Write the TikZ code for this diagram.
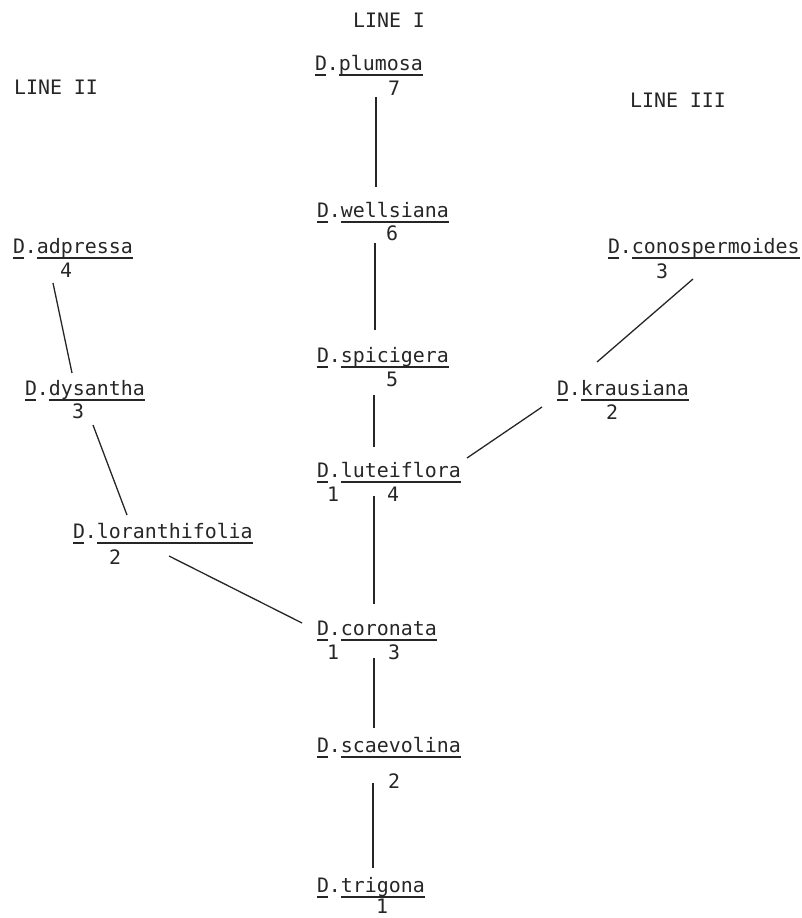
\documentclass[tikz,border=0pt]{standalone}
\usepackage{fontspec}
\newfontfamily\plotfont{DejaVu Sans Mono}
\tikzset{
  sptext/.style={anchor=base west, inner sep=0pt, outer sep=0pt, font=\plotfont\fontsize{19.9}{20}\selectfont, text=black!85},
  num/.style={inner sep=0pt, font=\plotfont\fontsize{19.9}{20}\selectfont, text=black!85},
  linelab/.style={inner sep=0pt, font=\plotfont\fontsize{19.9}{20}\selectfont, text=black!85},
  ul/.style={line width=1.1pt, black!85},
  conn/.style={line width=1.3pt, black!85},
}
\newcommand\species[4]{%
  \node[sptext] (#1) at (#2,#3) {D.#4};
  \draw[ul] ([yshift=-5pt]#1.base west) -- ++(11pt,0);
  \draw[ul] ([xshift=24pt,yshift=-5pt]#1.base west) -- ([yshift=-5pt]#1.base east);
}
\begin{document}
\begin{tikzpicture}[x=1pt,y=-1pt]
\useasboundingbox (0,0) rectangle (801,918);
% line labels
\node[linelab] (l1) at (389,20) {LINE I};
\node[linelab] (l2) at (56,87) {LINE II};
\node[linelab] (l3) at (678,100) {LINE III};
% species
\species{plumosa}{315}{70}{plumosa}
\node[num] (plumosaN) at (394,88) {7};
\species{wellsiana}{317}{217}{wellsiana}
\node[num] (wellsianaN) at (392,233) {6};
\species{spicigera}{317}{362}{spicigera}
\node[num] (spicigeraN) at (392,379) {5};
\species{adpressa}{13}{253}{adpressa}
\node[num] (adpressaN) at (66,270) {4};
\species{conosperm}{608}{253}{conospermoides}
\node[num] (conospermN) at (662,271) {3};
\species{dysantha}{25}{395}{dysantha}
\node[num] (dysanthaN) at (78,411) {3};
\species{krausiana}{557}{395}{krausiana}
\node[num] (krausianaN) at (612,412) {2};
\species{luteiflora}{317}{477}{luteiflora}
\node[num] (luteifloraA) at (333,494) {1};
\node[num] (luteifloraB) at (393,494) {4};
\species{loranth}{73}{538}{loranthifolia}
\node[num] (loranthN) at (115,557) {2};
\species{coronata}{317}{635}{coronata}
\node[num] (coronataA) at (333,652) {1};
\node[num] (coronataB) at (394,652) {3};
\species{scaevolina}{317}{752}{scaevolina}
\node[num] (scaevolinaN) at (394,781) {2};
\species{trigona}{317}{892}{trigona}
\node[num] (trigonaN) at (382,906) {1};
% connector ends
\coordinate (c1a) at (376,97);  \coordinate (c1b) at (376,187);
\coordinate (c2a) at (375,243); \coordinate (c2b) at (375,330);
\coordinate (c3a) at (374,395); \coordinate (c3b) at (374,447);
\coordinate (c4a) at (374,496); \coordinate (c4b) at (374,604);
\coordinate (c5a) at (374,658); \coordinate (c5b) at (374,728);
\coordinate (c6a) at (373,783); \coordinate (c6b) at (373,868);
\coordinate (c7a) at (53,283);  \coordinate (c7b) at (72,373);
\coordinate (c8a) at (93,425);  \coordinate (c8b) at (127,515);
\coordinate (c9a) at (169,556); \coordinate (c9b) at (302,623);
\coordinate (c10a) at (467,458); \coordinate (c10b) at (542,407);
\coordinate (c11a) at (597,362); \coordinate (c11b) at (693,279);
\foreach \i in {1,...,11} {\draw[conn] (c\i a) -- (c\i b);}
\end{tikzpicture}
\end{document}
